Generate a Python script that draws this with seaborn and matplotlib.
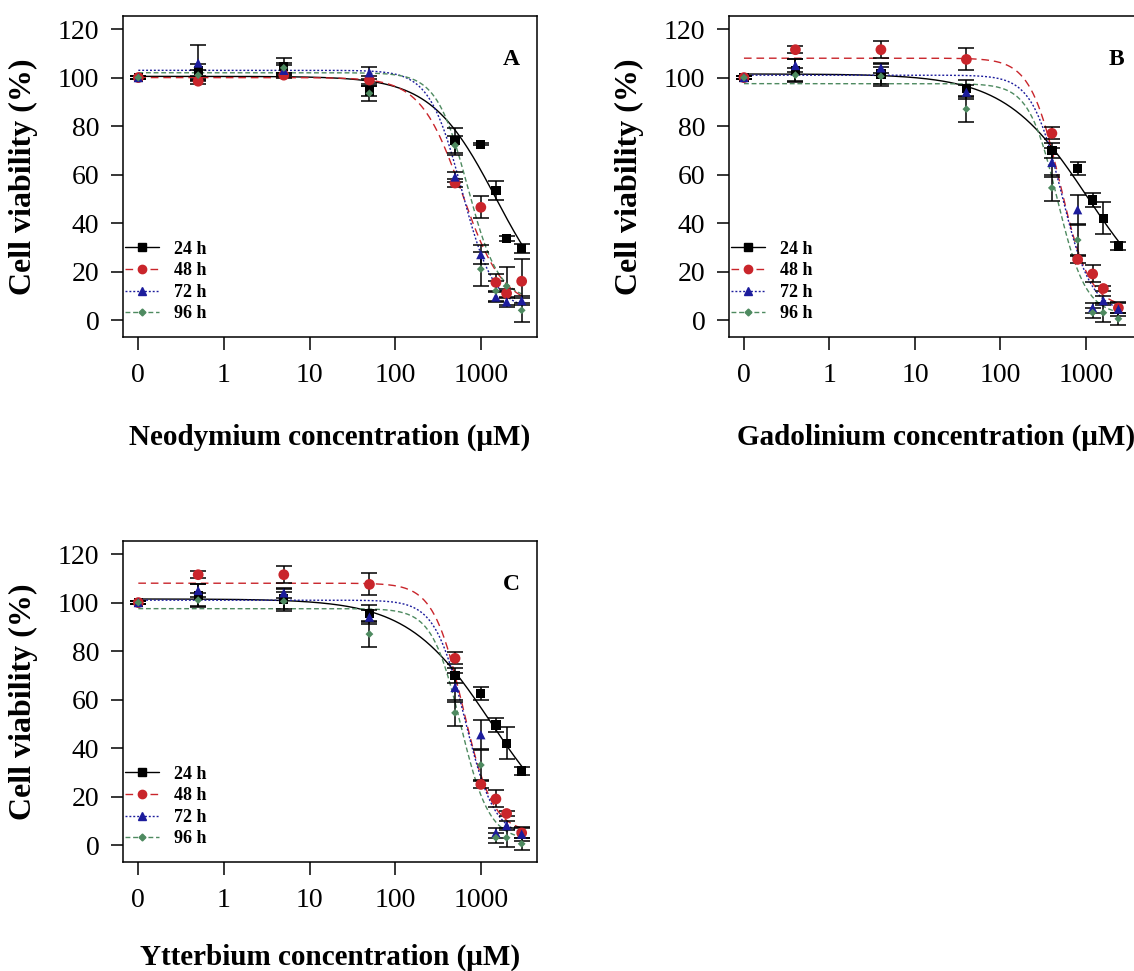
import numpy as np
import pandas as pd
import matplotlib
matplotlib.use("Agg")
import matplotlib.pyplot as plt
import seaborn as sns
from matplotlib.lines import Line2D
from matplotlib.ticker import NullLocator

# ---- data ----
times = ["24 h", "48 h", "72 h", "96 h"]

# Neodymium (A)
conc_nd = [0, 0.5, 5, 50, 500, 1000, 1500, 2000, 3000]
nd_24 = [100, 103, 104.5, 94.5, 74, 72.5, 53.5, 33.5, 29.5]
nd_24_sd = [0.5, 2.5, 3.5, 2, 5, 0.5, 4, 1, 2]
nd_48 = [100, 98.5, 101, 99, 56.5, 46.5, 15.5, 11, 16]
nd_48_sd = [0.5, 1, 1, 1.5, 1.5, 4.5, 3.5, 2, 9]
nd_72 = [100, 106, 103, 102, 59, 27, 9.5, 7.5, 8]
nd_72_sd = [0.5, 7.5, 2, 2.5, 2, 4, 2, 2, 2]
nd_96 = [100, 101, 104, 93.5, 72, 21, 12, 14, 4]
nd_96_sd = [0.5, 2, 2, 3, 4, 7, 4, 8, 5]

# Ytterbium (C)
conc_yb = [0, 0.5, 5, 50, 500, 1000, 1500, 2000, 3000]
yb_24 = [100, 103, 101.5, 95.5, 70, 62.5, 49.5, 42, 30.5]
yb_24_sd = [0.5, 4.5, 4, 3.5, 3, 2.5, 3, 6.5, 1.5]
yb_48 = [100, 111.5, 111.5, 107.5, 77, 25, 19, 13, 5]
yb_48_sd = [0.5, 1.5, 3.5, 4.5, 2.5, 1.5, 3.5, 1, 2]
yb_72 = [100, 105, 104, 94, 65, 45.5, 5, 8, 4.5]
yb_72_sd = [0.5, 2.5, 2, 3, 6, 6, 2, 2, 3]
yb_96 = [100, 101, 100.5, 87, 54.5, 33, 3, 3, 0.5]
yb_96_sd = [0.5, 3, 4, 5.5, 5.5, 6, 2, 4, 2.5]

# Gadolinium (B) - same responses as Ytterbium in the figure, other doses
conc_gd = [0, 0.4, 4, 40, 400, 800, 1200, 1600, 2400]
gd_24, gd_24_sd = yb_24, yb_24_sd
gd_48, gd_48_sd = yb_48, yb_48_sd
gd_72, gd_72_sd = yb_72, yb_72_sd
gd_96, gd_96_sd = yb_96, yb_96_sd

# four-parameter log-logistic fits (b, c, d, e) per time point
fit_nd = {"24 h": (1.15, 0, 100.5, 1500), "48 h": (1.8, 5, 100, 600),
          "72 h": (2.3, 4, 103, 600), "96 h": (2.4, 8, 102, 700)}
fit_yb = {"24 h": (0.9, 0, 101.5, 1300), "48 h": (2.5, 5, 108, 620),
          "72 h": (2.5, 3, 101, 650), "96 h": (2.6, 2, 97.5, 580)}
fit_gd = {"24 h": (0.9, 0, 101.5, 1040), "48 h": (2.5, 5, 108, 496),
          "72 h": (2.5, 3, 101, 520), "96 h": (2.6, 2, 97.5, 464)}

colors = {"24 h": "black", "48 h": "#c9252b", "72 h": "#1c1c9c", "96 h": "#4e8a60"}
markers = {"24 h": "s", "48 h": "o", "72 h": "^", "96 h": "D"}
msize = {"24 h": 45, "48 h": 60, "72 h": 45, "96 h": 16}
dashes = {"24 h": "", "48 h": (5.5, 3.5), "72 h": (1.4, 1.4), "96 h": (3.5, 2)}


def loglogistic(x, b, c, d, e):
    return c + (d - c) / (1 + (x / e) ** b)


def make_frames(conc, series, fits):
    xs = np.where(np.array(conc) == 0, 0.1, conc)
    pts = []
    for t, (m, sd) in zip(times, series):
        pts.append(pd.DataFrame({"x": xs, "y": m, "sd": sd, "time": t}))
    grid = np.logspace(-1, np.log10(max(conc)), 300)
    crv = []
    for t in times:
        crv.append(pd.DataFrame({"x": grid, "y": loglogistic(grid, *fits[t]), "time": t}))
    return pd.concat(pts), pd.concat(crv)


sns.set_style("white")
plt.rcParams['font.family'] = ['Liberation Serif', 'DejaVu Serif']
plt.rcParams['axes.linewidth'] = 1.1
plt.rcParams['text.color'] = 'black'
plt.rcParams['axes.labelcolor'] = 'black'

fig = plt.figure(figsize=(11.34, 9.71), dpi=100)
W, H = 1134, 971

panels = [
    ("A", "Neodymium concentration (\u03bcM)", conc_nd,
     [(nd_24, nd_24_sd), (nd_48, nd_48_sd), (nd_72, nd_72_sd), (nd_96, nd_96_sd)],
     fit_nd, (123, 337), (-1.179, 3.656), -0.27),
    ("B", "Gadolinium concentration (\u03bcM)", conc_gd,
     [(gd_24, gd_24_sd), (gd_48, gd_48_sd), (gd_72, gd_72_sd), (gd_96, gd_96_sd)],
     fit_gd, (729, 337), (-1.175, 3.668), -0.27),
    ("C", "Ytterbium concentration (\u03bcM)", conc_yb,
     [(yb_24, yb_24_sd), (yb_48, yb_48_sd), (yb_72, yb_72_sd), (yb_96, yb_96_sd)],
     fit_yb, (123, 862), (-1.179, 3.656), -0.255),
]

for letter, xlabel, conc, series, fits, (left, bottom), (lx0, lx1), xl_y in panels:
    ax = fig.add_axes([left / W, (H - bottom) / H, 414 / W, 321 / H])
    pts, crv = make_frames(conc, series, fits)

    sns.lineplot(data=crv, x="x", y="y", hue="time", style="time", palette=colors,
                 dashes=dashes, estimator=None, linewidth=1.0, legend=False, ax=ax, zorder=2)
    for t in times:
        d = pts[pts["time"] == t]
        ax.errorbar(d["x"], d["y"], yerr=d["sd"], fmt="none", ecolor="black",
                    elinewidth=1.1, capsize=6, capthick=1.1, zorder=3)
    sns.scatterplot(data=pts, x="x", y="y", hue="time", style="time", palette=colors,
                    markers=markers, size="time", sizes=msize, edgecolor="none",
                    legend=False, ax=ax, zorder=4)

    ax.set_xscale("log")
    ax.set_xlim(10 ** lx0, 10 ** lx1)
    ax.set_ylim(-7, 125.4)
    ax.set_xticks([0.1, 1, 10, 100, 1000])
    ax.set_xticklabels(["0", "1", "10", "100", "1000"])
    ax.xaxis.set_minor_locator(NullLocator())
    ax.set_yticks([0, 20, 40, 60, 80, 100, 120])
    ax.tick_params(axis="both", which="major", direction="out", length=9, width=1.1,
                   labelsize=20, colors="black", bottom=True, left=True)
    ax.tick_params(axis="x", pad=10)
    ax.tick_params(axis="y", pad=8)
    for s in ax.spines.values():
        s.set_color("black")
        s.set_visible(True)

    ax.set_xlabel(xlabel, fontsize=21, fontweight="bold")
    ax.xaxis.set_label_coords(0.5, xl_y)
    ax.set_ylabel("Cell viability (%)", fontsize=23, fontweight="bold")
    ax.yaxis.set_label_coords(-0.205, 0.5)

    ax.text(0.937, 0.865, letter, transform=ax.transAxes, fontsize=17,
            fontweight="bold", ha="center", va="center")

    handles = []
    for t in times:
        h = Line2D([], [], color=colors[t], marker=markers[t],
                   markersize=(6 if t != "96 h" else 3.5), linewidth=1.0)
        if dashes[t]:
            h.set_dashes(dashes[t])
        handles.append(h)
    ax.legend(handles, times, loc="lower left", bbox_to_anchor=(0.0, 0.04),
              frameon=False, prop={"weight": "bold", "size": 13}, handlelength=1.9,
              handletextpad=0.8, labelspacing=0.25, borderpad=0.1, borderaxespad=0.0)

fig.savefig("out.png", dpi=100)
